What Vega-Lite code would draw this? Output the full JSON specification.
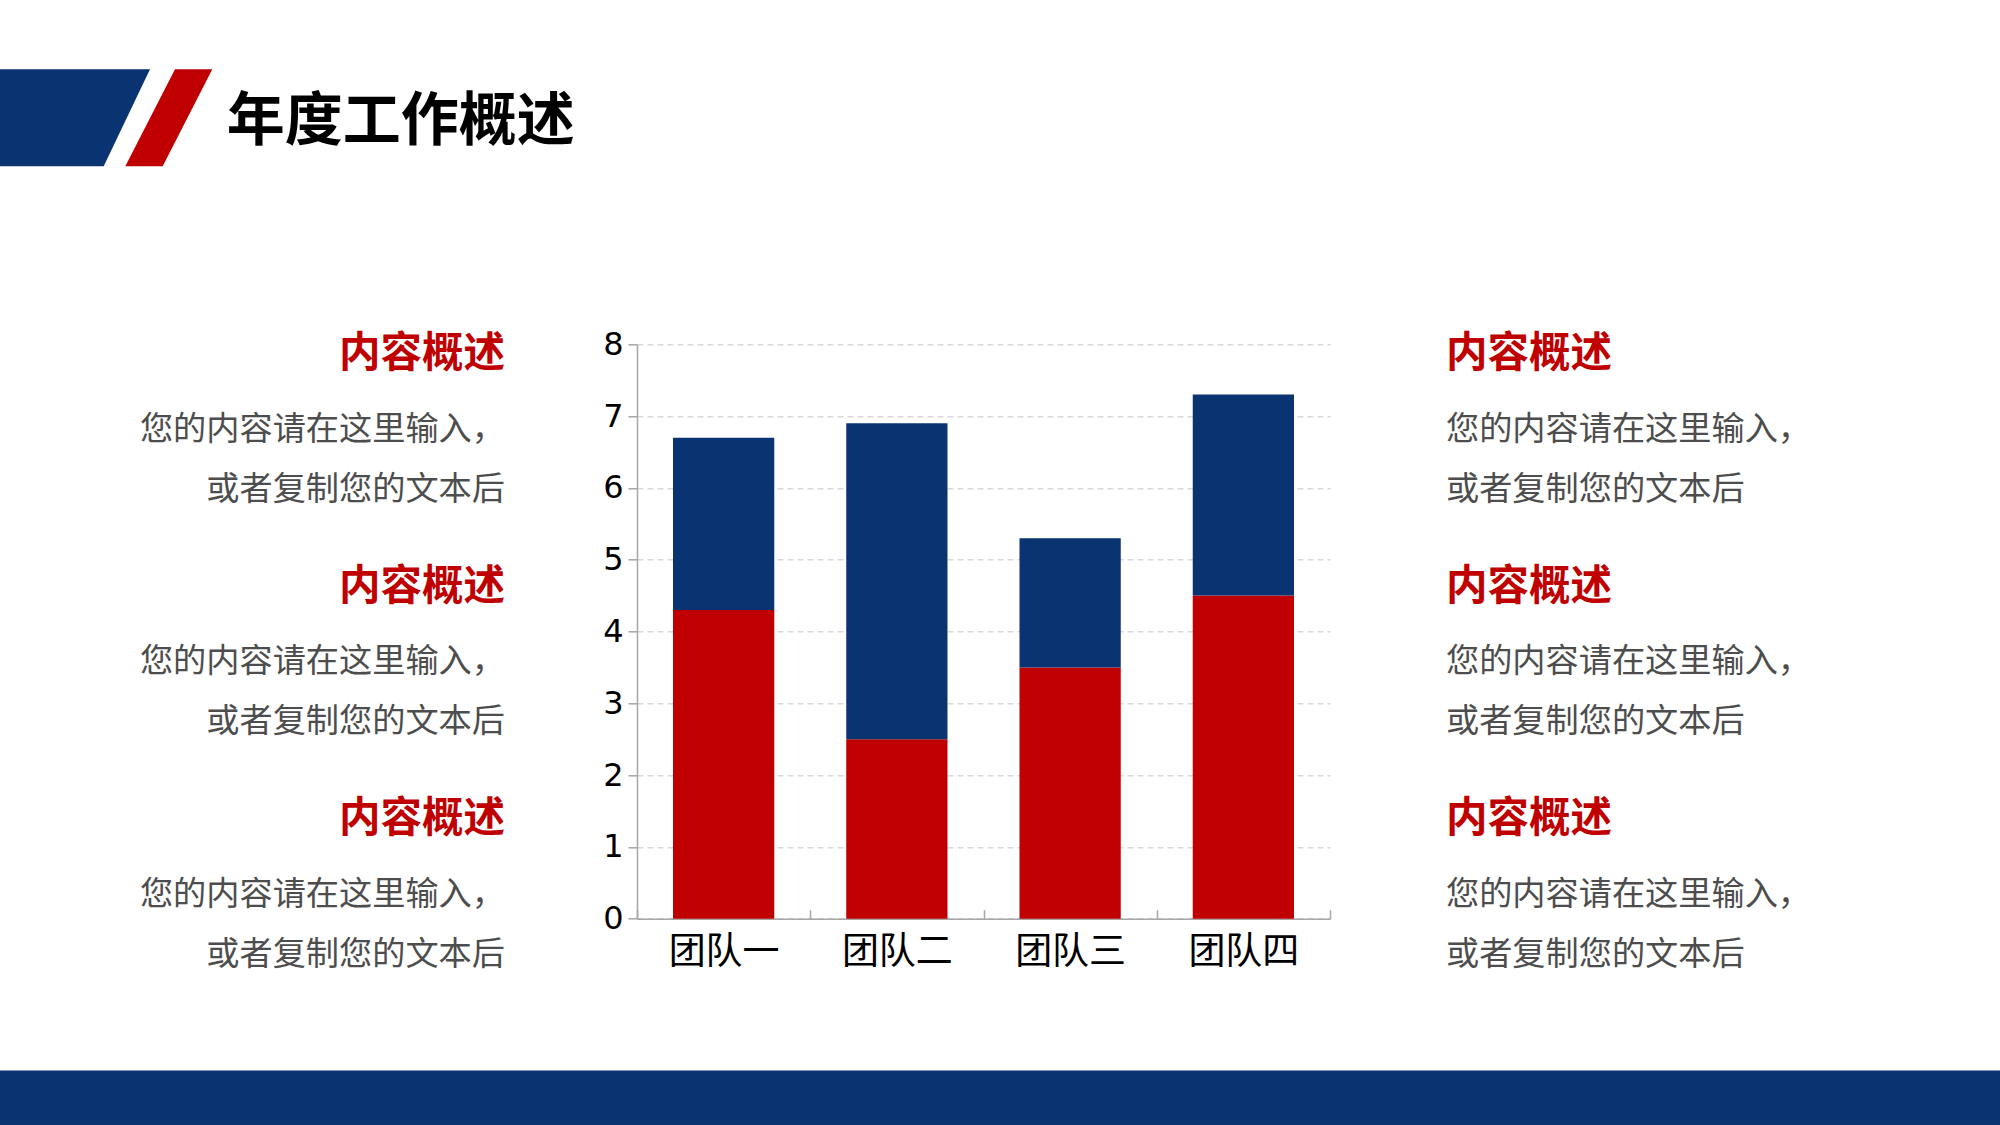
{
  "$schema": "https://vega.github.io/schema/vega-lite/v6.json",
  "background": "white",
  "padding": 0,
  "autosize": {"type": "pad"},
  "bounds": "flush",
  "columns": 3,
  "spacing": {"row": 151.3, "column": 0},
  "resolve": {"scale": {"color": "independent", "shape": "independent"}},
  "config": {"view": {"stroke": null}, "font": "Noto Sans CJK SC"},
  "datasets": {
    "bars": [
      {"团队": "团队一", "系列": "系列1", "数值": 4.3},
      {"团队": "团队一", "系列": "系列2", "数值": 2.4},
      {"团队": "团队二", "系列": "系列1", "数值": 2.5},
      {"团队": "团队二", "系列": "系列2", "数值": 4.4},
      {"团队": "团队三", "系列": "系列1", "数值": 3.5},
      {"团队": "团队三", "系列": "系列2", "数值": 1.8},
      {"团队": "团队四", "系列": "系列1", "数值": 4.5},
      {"团队": "团队四", "系列": "系列2", "数值": 2.8}
    ],
    "leftText": [
      {"block": 1, "title": "内容概述", "body": "您的内容请在这里输入，\n或者复制您的文本后"},
      {"block": 2, "title": "内容概述", "body": "您的内容请在这里输入，\n或者复制您的文本后"},
      {"block": 3, "title": "内容概述", "body": "您的内容请在这里输入，\n或者复制您的文本后"}
    ],
    "rightText": [
      {"block": 1, "title": "内容概述", "body": "您的内容请在这里输入，\n或者复制您的文本后"},
      {"block": 2, "title": "内容概述", "body": "您的内容请在这里输入，\n或者复制您的文本后"},
      {"block": 3, "title": "内容概述", "body": "您的内容请在这里输入，\n或者复制您的文本后"}
    ],
    "banner": [{"part": "蓝色色块"}, {"part": "红色色块"}],
    "heading": [{"title": "年度工作概述"}],
    "blank": [{"note": ""}]
  },
  "concat": [
    {
      "width": 637,
      "height": 193,
      "layer": [
        {
          "data": {"name": "banner"},
          "mark": {"type": "point", "filled": true, "opacity": 1, "size": 40000, "strokeWidth": 0},
          "encoding": {
            "shape": {"field": "part", "type": "nominal", "legend": null,
              "scale": {"domain": ["蓝色色块", "红色色块"],
                "range": ["M -3.185 -0.272 L -1.685 -0.272 L -2.148 0.698 L -3.185 0.698 Z",
                          "M -1.435 -0.272 L -1.062 -0.272 L -1.558 0.698 L -1.932 0.698 Z"]}},
            "color": {"field": "part", "type": "nominal", "legend": null,
              "scale": {"domain": ["蓝色色块", "红色色块"], "range": ["#0A3372", "#C00000"]}}
          }
        },
        {
          "data": {"name": "heading"},
          "mark": {"type": "text", "align": "left", "baseline": "alphabetic", "dx": -91.7, "dy": 43.8, "fontSize": 58, "fontWeight": "bold", "font": "Noto Sans CJK SC", "color": "#000000"},
          "encoding": {"text": {"field": "title"}}
        }
      ]
    },
    {
      "width": 693,
      "height": 193,
      "data": {"name": "blank"},
      "mark": {"type": "text", "text": ""},
      "encoding": {}
    },
    {
      "width": 670,
      "height": 193,
      "data": {"name": "blank"},
      "mark": {"type": "text", "text": ""},
      "encoding": {}
    },
    {
      "width": 637,
      "height": 465.6,
      "data": {"name": "leftText"},
      "encoding": {
        "y": {"field": "block", "type": "ordinal", "scale": {"type": "point", "padding": 0}, "axis": null},
        "x": {"value": "width"}
      },
      "layer": [
        {"mark": {"type": "text", "align": "right", "baseline": "alphabetic", "dx": -132, "dy": 22.5, "fontSize": 41.5, "fontWeight": "bold", "color": "#C00000", "font": "Noto Sans CJK SC"},
         "encoding": {"text": {"field": "title"}}},
        {"mark": {"type": "text", "align": "right", "baseline": "alphabetic", "dx": -132, "dy": 95.2, "fontSize": 33.2, "lineHeight": 60, "lineBreak": "\n", "color": "#4d4d4d", "font": "Noto Sans CJK SC"},
         "encoding": {"text": {"field": "body"}}}
      ]
    },
    {
      "width": 693,
      "height": 574.4,
      "data": {"name": "bars"},
      "mark": {"type": "bar", "width": {"band": 0.5845}},
      "encoding": {
        "x": {"field": "团队", "type": "nominal", "sort": ["团队一", "团队二", "团队三", "团队四"],
          "scale": {"paddingInner": 0, "paddingOuter": 0},
          "axis": {"title": null, "labelAngle": 0, "labelFont": "Noto Sans CJK SC", "labelFontSize": 37, "labelColor": "#000000", "labelPadding": 24.5,
            "domainColor": "#a6a6a6", "domainWidth": 1.5, "tickColor": "#a6a6a6", "tickWidth": 1.5, "tickSize": -9, "tickBand": "extent"}},
        "y": {"field": "数值", "type": "quantitative", "stack": "zero", "scale": {"domain": [0, 8]},
          "axis": {"title": null, "values": [0, 1, 2, 3, 4, 5, 6, 7, 8], "labelFont": "DejaVu Sans", "labelFontSize": 32, "labelColor": "#000000", "labelPadding": 5,
            "domainColor": "#a6a6a6", "domainWidth": 1.5, "tickColor": "#a6a6a6", "tickSize": 9, "tickWidth": 1.5,
            "grid": true, "gridColor": "#d9d9d9", "gridDash": [6, 4], "gridWidth": 1.5}},
        "color": {"field": "系列", "type": "nominal", "legend": null,
          "scale": {"domain": ["系列1", "系列2"], "range": ["#C00000", "#0A3372"]}},
        "order": {"field": "系列", "type": "ordinal", "sort": "ascending"}
      }
    },
    {
      "width": 670,
      "height": 465.6,
      "data": {"name": "rightText"},
      "encoding": {
        "y": {"field": "block", "type": "ordinal", "scale": {"type": "point", "padding": 0}, "axis": null}
      },
      "layer": [
        {"mark": {"type": "text", "align": "left", "baseline": "alphabetic", "dx": -219, "dy": 22.5, "fontSize": 41.5, "fontWeight": "bold", "color": "#C00000", "font": "Noto Sans CJK SC"},
         "encoding": {"text": {"field": "title"}}},
        {"mark": {"type": "text", "align": "left", "baseline": "alphabetic", "dx": -219, "dy": 95.2, "fontSize": 33.2, "lineHeight": 60, "lineBreak": "\n", "color": "#4d4d4d", "font": "Noto Sans CJK SC"},
         "encoding": {"text": {"field": "body"}}}
      ]
    },
    {
      "width": 637,
      "height": 55,
      "view": {"fill": "#0A3372", "stroke": null},
      "data": {"name": "blank"},
      "mark": {"type": "text", "text": ""},
      "encoding": {}
    },
    {
      "width": 693,
      "height": 55,
      "view": {"fill": "#0A3372", "stroke": null},
      "data": {"name": "blank"},
      "mark": {"type": "text", "text": ""},
      "encoding": {}
    },
    {
      "width": 670,
      "height": 55,
      "view": {"fill": "#0A3372", "stroke": null},
      "data": {"name": "blank"},
      "mark": {"type": "text", "text": ""},
      "encoding": {}
    }
  ]
}
